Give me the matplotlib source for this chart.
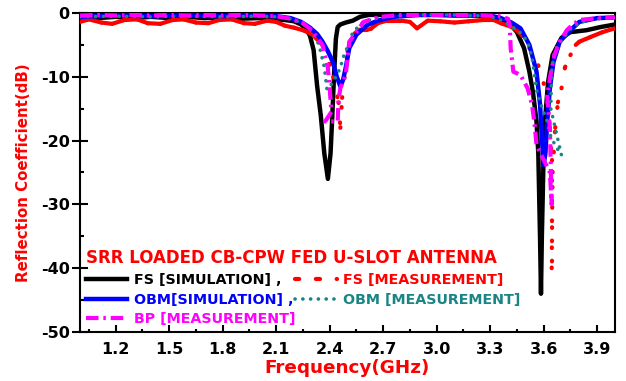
import numpy as np
import matplotlib
matplotlib.use('Agg')
import matplotlib.pyplot as plt
from matplotlib.collections import LineCollection
from matplotlib.lines import Line2D
from matplotlib.ticker import MultipleLocator

plt.rcParams['font.family'] = 'DejaVu Sans'
plt.rcParams['font.weight'] = 'bold'
plt.rcParams['axes.unicode_minus'] = False
plt.rcParams['lines.scale_dashes'] = False

# FS [SIMULATION]
fs_sim_f = [1.0, 1.1, 1.2, 1.3, 1.4, 1.5, 1.6, 1.7, 1.8, 1.9, 2.0, 2.1, 2.15, 2.2, 2.24,
            2.27, 2.29, 2.31, 2.33, 2.35, 2.37, 2.39, 2.405, 2.415, 2.425, 2.435, 2.445,
            2.46, 2.49, 2.53, 2.57, 2.62, 2.7, 2.8, 2.9, 3.0, 3.1, 3.2, 3.3, 3.36, 3.41,
            3.45, 3.49, 3.52, 3.54, 3.56, 3.57, 3.58, 3.585, 3.59, 3.60, 3.61, 3.625,
            3.65, 3.70, 3.75, 3.84, 3.92, 4.0]
fs_sim_db = [-0.7, -0.8, -0.6, -0.8, -0.6, -0.8, -0.6, -0.8, -0.7, -0.9, -0.8, -1.0, -1.1,
             -1.3, -1.8, -2.6, -3.6, -5.8, -11.5, -16, -22, -26, -22, -16, -9.5, -4.0,
             -2.2, -1.8, -1.5, -1.2, -0.6, -0.3, -0.3, -0.3, -0.3, -0.3, -0.4, -0.4, -0.6,
             -0.9, -1.7, -3.0, -5.5, -9.2, -12.4, -17, -22, -35.6, -44, -35, -22, -16,
             -10.8, -6.6, -3.9, -3.0, -2.7, -2.2, -1.8]

# FS [MEASUREMENT]
fs_meas_f = [1.0, 1.05, 1.12, 1.18, 1.25, 1.32, 1.38, 1.45, 1.52, 1.58, 1.65, 1.72, 1.78,
             1.85, 1.92, 1.98, 2.05, 2.10, 2.15, 2.20, 2.25, 2.30, 2.36, 2.40, 2.42, 2.45,
             2.46, 2.47, 2.50, 2.54, 2.57, 2.61, 2.63, 2.67, 2.72, 2.80, 2.85, 2.89, 2.95,
             3.02, 3.10, 3.18, 3.26, 3.32, 3.36, 3.43, 3.48, 3.52, 3.57, 3.60, 3.62, 3.635,
             3.645, 3.645, 3.65, 3.665, 3.68, 3.70, 3.72, 3.75, 3.78, 3.80, 3.86, 3.93, 4.0]
fs_meas_db = [-1.4, -1.0, -1.5, -1.7, -1.1, -1.0, -1.6, -1.7, -1.1, -1.0, -1.5, -1.6, -1.1,
              -1.0, -1.6, -1.7, -1.2, -1.4, -2.0, -2.3, -2.7, -3.3, -5.0, -8.0, -10, -14,
              -18, -13.3, -6.0, -3.2, -2.6, -2.6, -2.5, -1.6, -1.2, -1.2, -1.4, -2.4, -1.2,
              -1.3, -1.5, -1.3, -1.1, -1.1, -1.6, -2.3, -3.5, -5.5, -8.2, -11, -14, -18,
              -23, -40, -25, -18, -14, -11.8, -8.5, -6.6, -5.0, -4.5, -3.8, -3.0, -2.4]

# OBM[SIMULATION]
obm_sim_f = [1.0, 1.2, 1.4, 1.6, 1.8, 2.0, 2.1, 2.18, 2.24, 2.29, 2.33, 2.36, 2.39, 2.42,
             2.44, 2.46, 2.475, 2.49, 2.51, 2.55, 2.61, 2.67, 2.76, 2.9, 3.1, 3.3, 3.36,
             3.42, 3.47, 3.52, 3.56, 3.58, 3.59, 3.60, 3.61, 3.62, 3.635, 3.655, 3.69,
             3.75, 3.80, 3.9, 4.0]
obm_sim_db = [-0.6, -0.4, -0.5, -0.4, -0.5, -0.4, -0.5, -0.8, -1.4, -2.3, -3.3, -4.5, -6.0,
              -7.8, -10, -11.5, -10.5, -8.6, -5.5, -3.4, -1.9, -1.2, -0.6, -0.3, -0.3,
              -0.4, -0.8, -1.5, -2.4, -5.0, -9.2, -14.4, -19.6, -23.8, -22, -17, -11.8,
              -7.7, -4.5, -2.7, -1.4, -0.8, -0.7]

# OBM [MEASUREMENT]
obm_meas_f = [1.0, 1.2, 1.4, 1.6, 1.8, 2.0, 2.1, 2.18, 2.24, 2.30, 2.34, 2.37, 2.385, 2.40,
              2.42, 2.44, 2.46, 2.475, 2.50, 2.53, 2.58, 2.65, 2.75, 2.9, 3.1, 3.3, 3.37,
              3.43, 3.47, 3.51, 3.535, 3.55, 3.56, 3.58, 3.60, 3.62, 3.635, 3.655, 3.675,
              3.70, 3.64, 3.645, 3.66, 3.70, 3.76, 3.85, 4.0]
obm_meas_db = [-0.6, -0.5, -0.6, -0.5, -0.6, -0.5, -0.6, -0.9, -1.5, -2.8, -5.0, -8.5, -12,
               -11.5, -10.8, -9.7, -8.6, -7.0, -5.3, -3.0, -1.6, -0.8, -0.5, -0.3, -0.3,
               -0.5, -1.2, -2.3, -3.1, -4.5, -7.0, -10, -12, -14, -15.5, -17, -19, -20.2,
               -21.2, -22.3, -15, -9.0, -6.0, -4.3, -2.2, -1.0, -0.7]

# BP [MEASUREMENT]
bp_meas_f = [1.0, 1.1, 1.2, 1.3, 1.4, 1.5, 1.6, 1.7, 1.8, 1.9, 2.0, 2.1, 2.18, 2.25, 2.30,
             2.36, 2.39, 2.40, 2.41, 2.375, 2.445, 2.45, 2.46, 2.49, 2.51, 2.55, 2.59, 2.68,
             2.8, 3.0, 3.2, 3.35, 3.40, 3.41, 3.415, 3.43, 3.47, 3.51, 3.535, 3.55, 3.56,
             3.60, 3.635, 3.645, 3.635, 3.62, 3.635, 3.66, 3.69, 3.73, 3.76, 3.80, 3.9, 4.0]
bp_meas_db = [-0.4, -0.3, -0.4, -0.3, -0.4, -0.3, -0.4, -0.3, -0.4, -0.3, -0.4, -0.5, -0.9,
              -1.6, -2.7, -5.0, -8.6, -11.8, -15.5, -17, -17, -13.5, -11.8, -9.7, -4.5,
              -3.0, -1.4, -0.6, -0.3, -0.3, -0.3, -0.5, -0.9, -2.0, -5.5, -9.2, -9.7,
              -11.8, -14.4, -17.6, -20.7, -23, -25, -30, -18, -13, -10.2, -6.6, -4.5,
              -2.7, -1.9, -1.1, -0.8, -0.7]

x_ticks = [1.2, 1.5, 1.8, 2.1, 2.4, 2.7, 3.0, 3.3, 3.6, 3.9]
y_ticks = [0, -10, -20, -30, -40, -50]

RED = '#ff0000'
TEAL = '#1a8585'


def plot_measured(ax, f, db, color, lw, dash, zorder):
    # Origin-style dotted trace: gentle stretches come out solid,
    # steep stretches break into dots, each segment restarting the pattern
    pts = np.column_stack([f, db])
    pix = ax.transData.transform(pts)
    d = np.diff(pix, axis=0)
    steep = np.abs(d[:, 1]) > 1.6 * np.abs(d[:, 0])
    segs = np.stack([pts[:-1], pts[1:]], axis=1)
    ax.add_collection(LineCollection(segs[~steep], colors=color, linewidths=lw,
                                     capstyle='round', joinstyle='round', zorder=zorder))
    ax.add_collection(LineCollection(segs[steep], colors=color, linewidths=lw,
                                     linestyles=[(0, dash)], capstyle='round',
                                     zorder=zorder))


fig = plt.figure(figsize=(6.26, 3.81), dpi=100)
ax = fig.add_axes([0.1278, 0.1286, 0.8546, 0.8373])
ax.set_xlim(1.0, 4.0)
ax.set_ylim(-50, 0)

ax.plot(fs_sim_f, fs_sim_db, color='black', lw=3.2, zorder=2)
plot_measured(ax, fs_meas_f, fs_meas_db, RED, 3.0, (0.5, 14), 3)
ax.plot(obm_sim_f, obm_sim_db, color='#0000ff', lw=3.2, zorder=4)
ax.plot(obm_meas_f, obm_meas_db, color=TEAL, lw=2.6, ls=(0, (0.1, 5.5)),
        dash_capstyle='round', zorder=5)
ax.plot(bp_meas_f, bp_meas_db, color='#ff00ff', lw=3.0, ls=(0, (9, 3.5, 1.8, 3.5)),
        zorder=6)

ax.set_xticks(x_ticks)
ax.set_xticklabels([f'{t:.1f}' for t in x_ticks])
ax.set_yticks(y_ticks)
ax.xaxis.set_minor_locator(MultipleLocator(0.15))
ax.yaxis.set_minor_locator(MultipleLocator(5))
ax.tick_params(axis='x', which='major', direction='in', length=5, width=1.5,
               labelsize=11.5, pad=7, top=False)
ax.tick_params(axis='x', which='minor', direction='in', length=2.5, width=1.5, top=False)
ax.tick_params(axis='y', which='major', direction='inout', length=12, width=1.5,
               labelsize=11.5, pad=1.5, right=False)
ax.tick_params(axis='y', which='minor', direction='in', length=3, width=1.5, right=False)
for s in ax.spines.values():
    s.set_linewidth(1.5)

ax.set_xlabel('Frequency(GHz)', color=RED, fontsize=13.2, fontweight='bold', labelpad=1.5)
ax.set_ylabel('Reflection Coefficient(dB)', color=RED, fontsize=10.8, fontweight='bold',
              labelpad=7)

handles = [
    Line2D([], [], color='black', lw=3.2),
    Line2D([], [], color='#0000ff', lw=3.2),
    Line2D([], [], color='#ff00ff', lw=3.0, ls=(0, (9, 3.5, 1.8, 3.5))),
    Line2D([], [], color=RED, lw=3.0, ls=(0, (3, 12)), dash_capstyle='round'),
    Line2D([], [], color=TEAL, lw=2.6, ls=(0, (0.1, 5.5)), dash_capstyle='round'),
]
labels = ['FS [SIMULATION] ,', 'OBM[SIMULATION] ,', 'BP [MEASUREMENT]',
          'FS [MEASUREMENT]', 'OBM [MEASUREMENT]']
label_colors = ['black', '#0000ff', '#ff00ff', RED, TEAL]
leg = ax.legend(handles, labels, ncol=2, loc='lower left', bbox_to_anchor=(0.0, 0.0),
                frameon=False, title='SRR LOADED CB-CPW FED U-SLOT ANTENNA',
                alignment='left', fontsize=10.3, handlelength=2.9, handletextpad=0.45,
                columnspacing=0.0, labelspacing=0.4, borderpad=0.25, borderaxespad=0.15)
leg.get_title().set_color(RED)
leg.get_title().set_fontsize(12)
leg.get_title().set_fontweight('bold')
for t, c in zip(leg.get_texts(), label_colors):
    t.set_color(c)

fig.savefig('out.png', dpi=100, facecolor='white')
